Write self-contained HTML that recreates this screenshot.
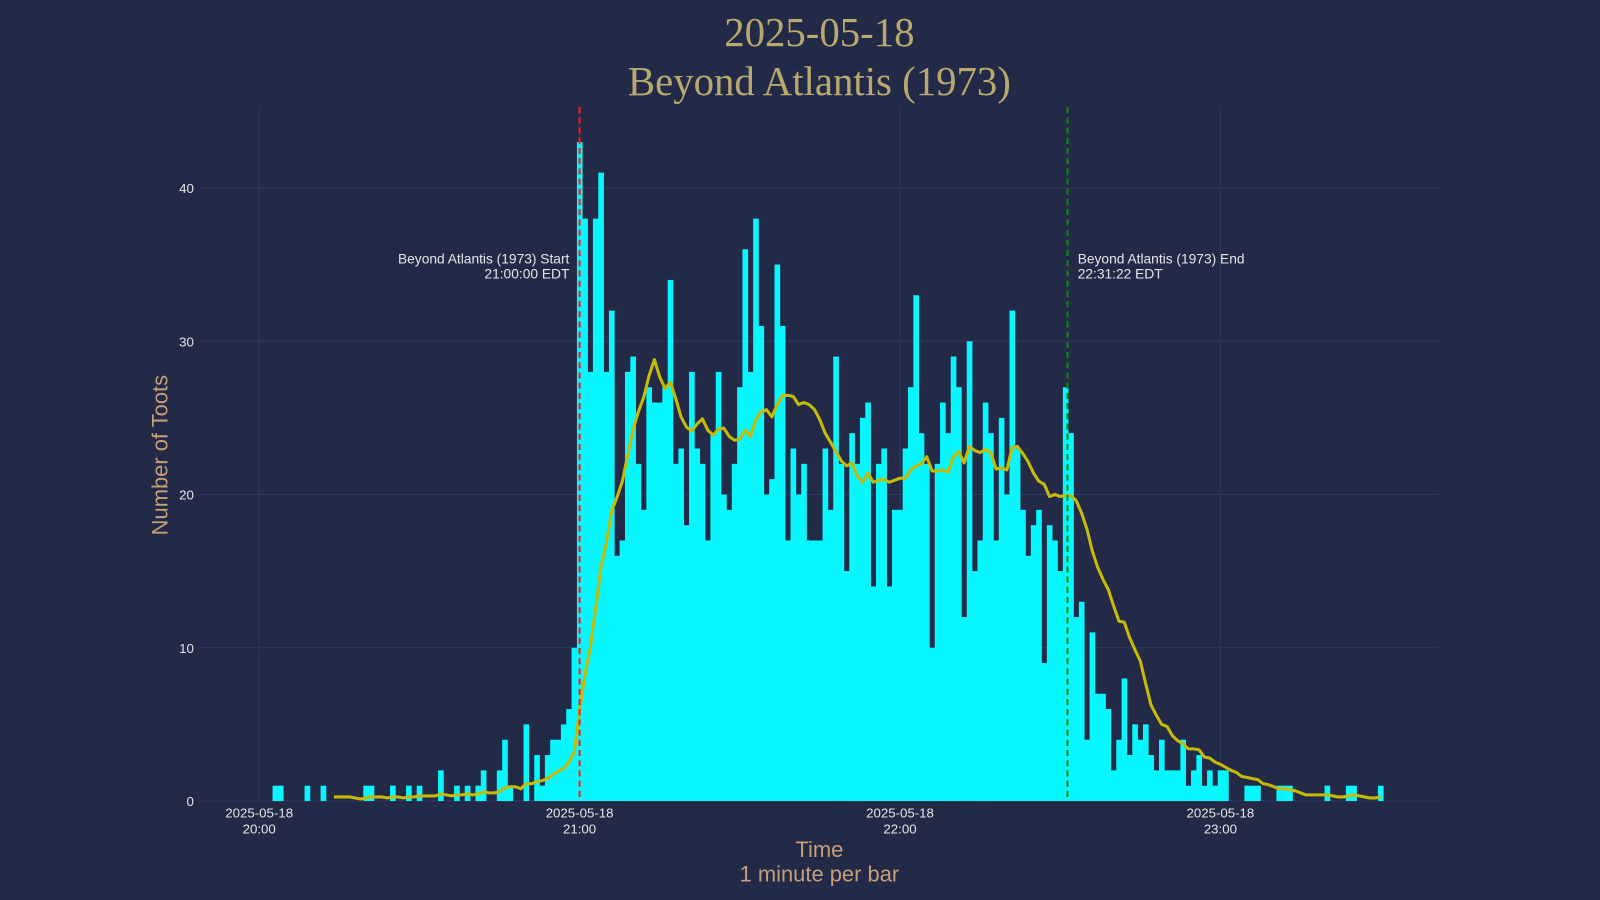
<!DOCTYPE html>
<html><head><meta charset="utf-8">
<style>
html,body{margin:0;padding:0;background:#232a47;}
svg{display:block;}
</style></head>
<body>
<svg id="chart" width="1600" height="900" viewBox="0 0 1568 882" xmlns="http://www.w3.org/2000/svg">
<rect x="0" y="0" width="1568" height="882" fill="#232a47"/>
<g id="grid"></g>
<g id="bars"></g>
<path id="avg" fill="none" stroke="#c4bb08" stroke-width="3" stroke-linejoin="round"/>
<g id="markers"></g>
<g id="axes" font-family="Liberation Sans, sans-serif"></g>
<text x="803" y="45" text-anchor="middle" font-family="Liberation Serif, serif" font-size="40" fill="#b8a96f">2025-05-18</text>
<text x="803" y="93" text-anchor="middle" font-family="Liberation Serif, serif" font-size="40" fill="#b8a96f">Beyond Atlantis (1973)</text>
<text x="803" y="840" text-anchor="middle" font-family="Liberation Sans, sans-serif" font-size="21.5" fill="#c49f78">Time</text>
<text x="803" y="864" text-anchor="middle" font-family="Liberation Sans, sans-serif" font-size="21.5" fill="#c49f78">1 minute per bar</text>
<text x="164" y="446" text-anchor="middle" transform="rotate(-90 164 446)" font-family="Liberation Sans, sans-serif" font-size="21.5" fill="#c49f78">Number of Toots</text>
</svg>
<script>
const counts = [
0,0,0,1,1,0,0,0,0,1, 0,0,1,0,0,0,0,0,0,0, 1,1,0,0,0,1,0,0,1,0, 1,0,0,0,2,0,0,1,0,1, 0,1,2,0,0,2,4,1,0,0, 5,0,3,1,3,4,4,5,6,10,
43,38,28,38,41,28,32,16,17,28, 29,22,19,27,26,26,27,34,22,23, 18,28,23,22,17,24,28,20,19,22, 27,36,28,38,31,20,21,35,31,17, 23,20,22,17,17,17,23,19,29,22, 15,24,22,25,26,14,22,23,14,19,
19,23,27,33,24,22,10,22,26,24, 29,27,12,30,15,17,26,24,17,25, 20,32,23,19,16,18,19,9,18,17, 15,27,24,12,13,4,11,7,7,6, 2,4,8,3,5,4,5,3,2,4, 2,2,2,4,1,2,3,1,2,1,
2,2,0,0,0,1,1,1,0,0,0,1,1,1,0,0,0,0,0,0,1,0,0,0,1,1,0,0,0,0,1];
// minutes after 20:00 for each bar
const minutes = counts.map((_,i)=>i);
const yTicks = [0,10,20,30,40];
const xTickMinutes = [0,60,120,180];
const xTickTimes = ["20:00","21:00","22:00","23:00"];
const xTickDate = "2025-05-18";
const startMinute = 60;        // 21:00:00
const endMinute = 151.3667;    // 22:31:22
const avgWindow = 15;

const NS="http://www.w3.org/2000/svg";
const X0=254, PXM=5.2333, Y0=785, PXU=15.02;
const xs=m=>X0+m*PXM;
const ys=v=>Y0-v*PXU;
function mk(tag,attrs,parent){const e=document.createElementNS(NS,tag);for(const k in attrs)e.setAttribute(k,attrs[k]);parent.appendChild(e);return e;}

const grid=document.getElementById('grid');
const axes=document.getElementById('axes');
yTicks.forEach(v=>{
  const l=mk('line',{x1:196,x2:1410,y1:ys(v),y2:ys(v),stroke:'#2e3862','stroke-width':1},grid);
  
  
  const t=mk('text',{x:190,y:ys(v)+5,'text-anchor':'end','font-size':13,fill:'#e6e6e6'},axes);
  t.textContent=v;
  
  
});
xTickMinutes.forEach((m,i)=>{
  const l=mk('line',{x1:xs(m),x2:xs(m),y1:105,y2:785,stroke:'#2e3862','stroke-width':1},grid);
  
  
  const t=mk('text',{x:xs(m),y:801,'text-anchor':'middle','font-size':13,fill:'#e6e6e6'},axes);
  t.textContent=xTickDate;
  
  
  const t2=mk('text',{x:xs(m),y:817,'text-anchor':'middle','font-size':13,fill:'#e6e6e6'},axes);
  t2.textContent=xTickTimes[i];
  
  
});

const bars=document.getElementById('bars');
minutes.forEach((m,i)=>{
  const v=counts[i]; if(!v) return;
  const r=mk('rect',{x:xs(m-0.5),y:ys(v),width:PXM+0.3,height:v*PXU,fill:'#08f7fe'},bars);
  
  
});

// trailing 15-minute mean
let d='';
for(let i=avgWindow-1;i<counts.length;i++){
  let s=0;for(let j=i-avgWindow+1;j<=i;j++)s+=counts[j];
  d+=(d?'L':'M')+xs(minutes[i]).toFixed(1)+','+ys(s/avgWindow).toFixed(1);
}
document.getElementById('avg').setAttribute('d',d);

const mkr=document.getElementById('markers');
const sl=mk('line',{x1:xs(startMinute),x2:xs(startMinute),y1:105,y2:785,stroke:'#ff1a1a','stroke-width':2,'stroke-dasharray':'6,4'},mkr);


const el=mk('line',{x1:xs(endMinute),x2:xs(endMinute),y1:105,y2:785,stroke:'#0a8a0a','stroke-width':2,'stroke-dasharray':'6,4'},mkr);


function ann(x,y,anchor,txt,name){const t=mk('text',{x:x,y:y,'text-anchor':anchor,'font-size':13.5,fill:'#e6e6e6','font-family':'Liberation Sans, sans-serif'},mkr);t.textContent=txt;}
ann(xs(startMinute)-10,258,'end','Beyond Atlantis (1973) Start','start-annotation');
ann(xs(startMinute)-10,273,'end','21:00:00 EDT','start-annotation-time');
ann(xs(endMinute)+10,258,'start','Beyond Atlantis (1973) End','end-annotation');
ann(xs(endMinute)+10,273,'start','22:31:22 EDT','end-annotation-time');
</script>
</body></html>
